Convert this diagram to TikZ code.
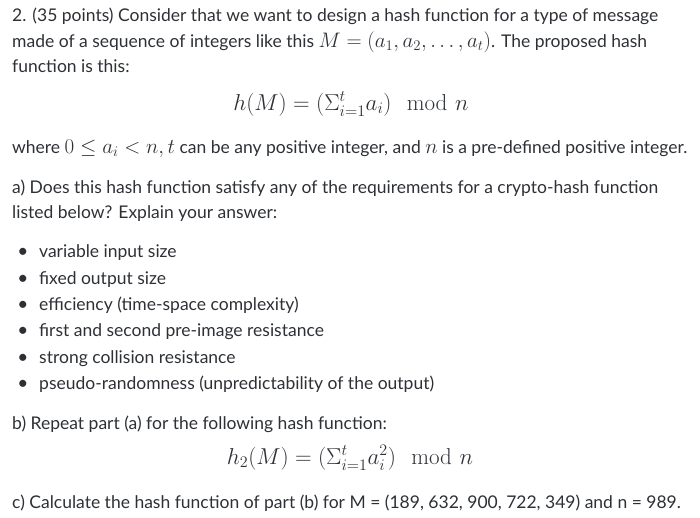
\RequirePackage{fix-cm}
\documentclass[tikz,border=0pt]{standalone}
\usepackage{amsmath}
\usepackage[no-math]{fontspec}
\setmainfont{Lato}
\DeclareMathSizes{17.5}{21}{14.7}{10.5}
\definecolor{inktext}{HTML}{2D3035}
\begin{document}
\begin{tikzpicture}[x=1pt, y=1pt]
    \tikzstyle{textline}=[anchor=base west, inner sep=0pt, text=inktext,
        font=\fontsize{17.5}{22}\selectfont]
    \tikzstyle{formula}=[anchor=base, inner sep=0pt, text=inktext,
        font=\fontsize{23}{28}\selectfont]
    \tikzstyle{bullet}=[anchor=base, inner sep=0pt, text=inktext,
        font=\fontsize{19}{22}\selectfont]
    \useasboundingbox (0, 0) rectangle (700, -517);

    \node [textline] (q-1) at (12, -21) {2. (35 points) Consider that we want to design a hash function for a type of message};
    \node [textline] (q-2) at (12, -47) {made of a sequence of integers like this $M = (a_1, a_2, \dots, a_t)$. The proposed hash};
    \node [textline] (q-3) at (12, -72) {function is this:};

    \node [formula] (h1) at (351, -110) {$h(M) = (\Sigma_{i=1}^{t} a_i) \mod n$};

    \node [textline] (where) at (12, -153) {where $0 \leq a_i < n, t$ can be any positive integer, and $n$ is a pre-defined positive integer.};

    \node [textline] (a-1) at (12, -193) {a) Does this hash function satisfy any of the requirements for a crypto-hash function};
    \node [textline] (a-2) at (12, -218) {listed below? Explain your answer:};

    \foreach \name / \y / \txt in {1/257/variable input size,
                                   2/284/fixed output size,
                                   3/310/efficiency (time-space complexity),
                                   4/336/first and second pre-image resistance,
                                   5/363/strong collision resistance,
                                   6/389/pseudo-randomness (unpredictability of the output)} {
        \node [bullet] (dot-\name) at (23, -\y) {\textbullet};
        \node [textline] (item-\name) at (39, -\y) {\txt};
    }

    \node [textline] (b) at (12, -429) {b) Repeat part (a) for the following hash function:};

    \node [formula] (h2) at (350, -464) {$h_2(M) = (\Sigma_{i=1}^{t} a_i^2) \mod n$};

    \node [textline] (c) at (12, -508) {c) Calculate the hash function of part (b) for M = (189, 632, 900, 722, 349) and n = 989.};
\end{tikzpicture}
\end{document}
